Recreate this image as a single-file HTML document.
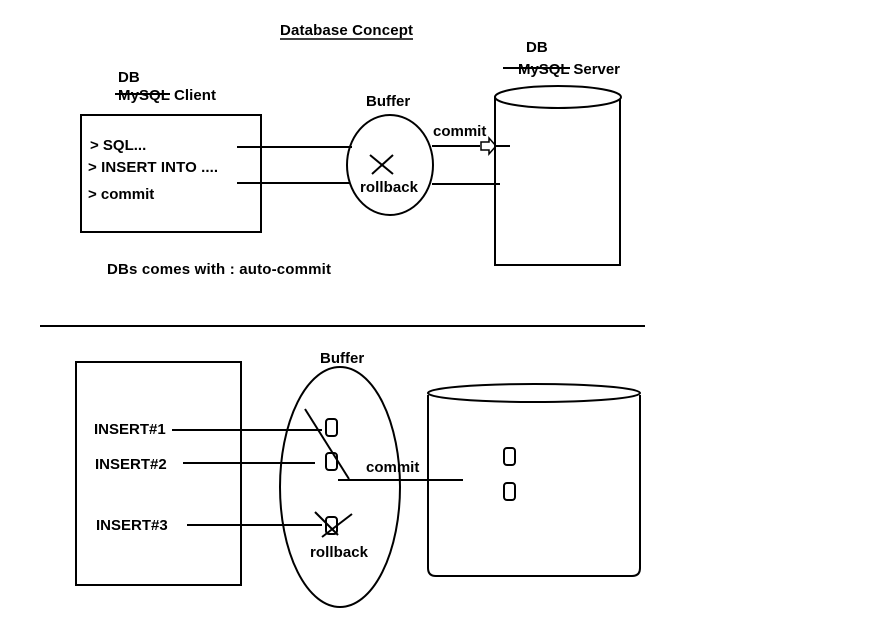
<!DOCTYPE html>
<html><head><style>body{margin:0;background:#fff}text{font-family:"Liberation Sans",sans-serif;font-size:15px;font-weight:bold;fill:#000}</style></head>
<body>
<svg width="874" height="625" xmlns="http://www.w3.org/2000/svg" fill="none" stroke="#000" stroke-width="2">
<text x="280" y="35" stroke="none" textLength="133">Database Concept</text>
<line x1="280" y1="39" x2="413" y2="39" stroke-width="1.5"/>
<text x="118" y="82" stroke="none">DB</text>
<text x="118" y="100" stroke="none" textLength="98">MySQL Client</text>
<line x1="115" y1="94" x2="170" y2="94"/>
<rect x="81" y="115" width="180" height="117"/>
<text x="90" y="150" stroke="none">&gt; SQL...</text>
<text x="88" y="172" stroke="none" textLength="130">&gt; INSERT INTO ....</text>
<text x="88" y="199" stroke="none">&gt; commit</text>
<line x1="237" y1="147" x2="352" y2="147"/>
<line x1="237" y1="183" x2="350" y2="183"/>
<text x="366" y="106" stroke="none">Buffer</text>
<ellipse cx="390" cy="165" rx="43" ry="50"/>
<line x1="370" y1="155" x2="393" y2="174"/><line x1="393" y1="155" x2="372" y2="174"/>
<text x="360" y="192" stroke="none" textLength="58">rollback</text>
<text x="433" y="136" stroke="none">commit</text>
<line x1="432" y1="146" x2="480" y2="146"/>
<line x1="496" y1="146" x2="510" y2="146"/>
<path d="M481 142h8v-4l7 8-7 8v-4h-8z" stroke-width="1.5"/>
<line x1="432" y1="184" x2="500" y2="184"/>
<text x="526" y="52" stroke="none">DB</text>
<text x="518" y="74" stroke="none" textLength="102">MySQL Server</text>
<line x1="503" y1="68" x2="570" y2="68"/>
<path d="M495 97 V265 H620 V97"/>
<ellipse cx="558" cy="97" rx="63" ry="11" fill="#fff"/>
<text x="107" y="274" stroke="none" textLength="224">DBs comes with : auto-commit</text>
<line x1="40" y1="326" x2="645" y2="326"/>
<rect x="76" y="362" width="165" height="223"/>
<text x="320" y="363" stroke="none">Buffer</text>
<ellipse cx="340" cy="487" rx="60" ry="120"/>
<path d="M428 395 V568 Q428 576 436 576 H632 Q640 576 640 568 V395"/>
<ellipse cx="534" cy="393" rx="106" ry="9" fill="#fff"/>
<text x="94" y="434" stroke="none">INSERT#1</text>
<text x="95" y="469" stroke="none">INSERT#2</text>
<text x="96" y="530" stroke="none">INSERT#3</text>
<line x1="172" y1="430" x2="322" y2="430"/>
<line x1="183" y1="463" x2="315" y2="463"/>
<line x1="187" y1="525" x2="322" y2="525"/>
<rect x="326" y="419" width="11" height="17" rx="3"/>
<rect x="326" y="453" width="11" height="17" rx="3"/>
<rect x="326" y="517" width="11" height="17" rx="3"/>
<line x1="305" y1="409" x2="349" y2="479"/>
<line x1="338" y1="480" x2="463" y2="480"/>
<line x1="315" y1="512" x2="338" y2="535"/><line x1="322" y1="537" x2="352" y2="514"/>
<text x="366" y="472" stroke="none">commit</text>
<text x="310" y="557" stroke="none" textLength="58">rollback</text>
<rect x="504" y="448" width="11" height="17" rx="3"/>
<rect x="504" y="483" width="11" height="17" rx="3"/>
</svg>
</body></html>
